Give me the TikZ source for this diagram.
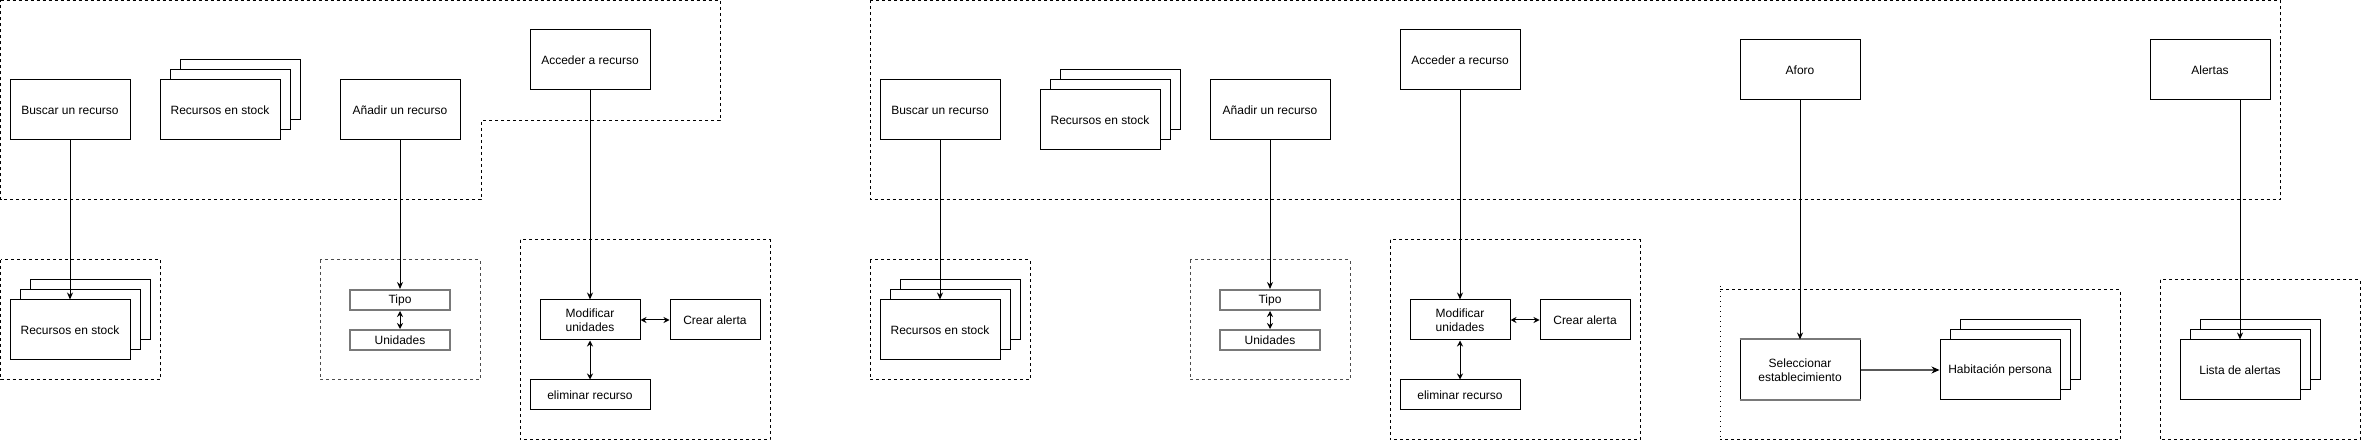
\documentclass[tikz,border=0pt]{standalone}
\usepackage{fontspec}
\setmainfont{Liberation Sans}
\usetikzlibrary{arrows.meta}
\tikzset{
  box/.style={draw=black, line width=1pt, fill=white, minimum width=120pt, minimum height=60pt, inner sep=1pt, align=center, font=\fontsize{12}{14}\selectfont},
  smallbox/.style={box, minimum width=100pt, minimum height=40pt},
  graybox/.style={box, draw=gray!95!black, line width=2pt, minimum width=100pt, minimum height=20pt},
  grp/.style={draw=black, line width=1pt, dash pattern=on 3pt off 3pt},
  grpgray/.style={draw=black!70, line width=1pt, dash pattern=on 3pt off 3pt},
  conn/.style={draw=black, line width=1pt, -{Stealth[length=7pt,width=6pt]}},
  dconn/.style={draw=black, line width=1pt, {Stealth[length=6pt,width=6pt]}-{Stealth[length=6pt,width=6pt]}},
}
\begin{document}
\begin{tikzpicture}[x=1pt,y=-1pt]
\useasboundingbox (0,0) rectangle (2362,443);

% ---------- group outlines ----------
\draw[grp] (0.5,0.5) -- (720,0.5) -- (720,121) -- (481,121) -- (481,200) -- (0.5,200) -- cycle;
\draw[grp] (0.5,260) rectangle (160,380);
\draw[grpgray] (320,260) rectangle (480,380);
\draw[grp] (520,240) rectangle (770,440);

\draw[grp] (870,0.5) rectangle (2280,200);
\draw[grp] (870,260) rectangle (1030,380);
\draw[grpgray] (1190,260) rectangle (1350,380);
\draw[grp] (1390,240) rectangle (1640,440);
\draw[grp] (1720,290) -- (2120,290) -- (2120,440) -- (1720,440);
\draw[draw=black, line width=1pt, dash pattern=on 1pt off 4pt] (1720,286) -- (1720,440);
\draw[grp] (2160,280) rectangle (2360,440);

% ---------- left half ----------
\node[box] (buscarL) at (70,110) {Buscar un recurso};
\node[box] (stkL3) at (240,90) {};
\node[box] (stkL2) at (230,100) {};
\node[box] (stkL1) at (220,110) {Recursos en stock};
\node[box] (anadirL) at (400,110) {Añadir un recurso};
\node[box] (accederL) at (590,60) {Acceder a recurso};

\node[box] (lowL3) at (90,310) {};
\node[box] (lowL2) at (80,320) {};
\node[box] (lowL1) at (70,330) {Recursos en stock};

\node[graybox] (tipoL) at (400,300) {Tipo};
\node[graybox] (uniL) at (400,340) {Unidades};

\node[smallbox] (modL) at (590,320) {Modificar\\unidades};
\node[smallbox, minimum width=90pt] (crearL) at (715,320) {Crear alerta};
\node[box, minimum height=30pt] (elimL) at (590,395) {eliminar recurso};

\draw[conn] (buscarL.south) -- (lowL1.north);
\draw[conn] (anadirL.south) -- (tipoL.north);
\draw[conn] (accederL.south) -- (modL.north);
\draw[dconn] (tipoL.south) -- (uniL.north);
\draw[dconn] (modL.east) -- (crearL.west);
\draw[dconn] (modL.south) -- (elimL.north);

% ---------- right half ----------
\node[box] (buscarR) at (940,110) {Buscar un recurso};
\node[box] (stkR3) at (1120,100) {};
\node[box] (stkR2) at (1110,110) {};
\node[box] (stkR1) at (1100,120) {Recursos en stock};
\node[box] (anadirR) at (1270,110) {Añadir un recurso};
\node[box] (accederR) at (1460,60) {Acceder a recurso};
\node[box] (aforo) at (1800,70) {Aforo};
\node[box] (alertas) at (2210,70) {Alertas};

\node[box] (lowR3) at (960,310) {};
\node[box] (lowR2) at (950,320) {};
\node[box] (lowR1) at (940,330) {Recursos en stock};

\node[graybox] (tipoR) at (1270,300) {Tipo};
\node[graybox] (uniR) at (1270,340) {Unidades};

\node[smallbox] (modR) at (1460,320) {Modificar\\unidades};
\node[smallbox, minimum width=90pt] (crearR) at (1585,320) {Crear alerta};
\node[box, minimum height=30pt] (elimR) at (1460,395) {eliminar recurso};

\node[box] (selec) at (1800,370) {Seleccionar\\establecimiento};
\draw[gray!95!black, line width=2pt] (selec.north west) -- (selec.north east);
\draw[gray!95!black, line width=2pt] (selec.south west) -- (selec.south east);

\node[box] (hab3) at (2020,350) {};
\node[box] (hab2) at (2010,360) {};
\node[box] (hab1) at (2000,370) {Habitación persona};

\node[box] (lista3) at (2260,350) {};
\node[box] (lista2) at (2250,360) {};
\node[box] (lista1) at (2240,370) {Lista de alertas};

\draw[conn] (buscarR.south) -- (lowR1.north);
\draw[conn] (anadirR.south) -- (tipoR.north);
\draw[conn] (accederR.south) -- (modR.north);
\draw[dconn] (tipoR.south) -- (uniR.north);
\draw[dconn] (modR.east) -- (crearR.west);
\draw[dconn] (modR.south) -- (elimR.north);
\draw[conn] (aforo.south) -- (selec.north);
\draw[conn] (alertas.south -| lista1.north) -- (lista1.north);
\draw[draw=black!65, line width=1.6pt, -{Stealth[length=8pt,width=7pt,color=black]}] (selec.east) -- (hab1.west);
\end{tikzpicture}
\end{document}
